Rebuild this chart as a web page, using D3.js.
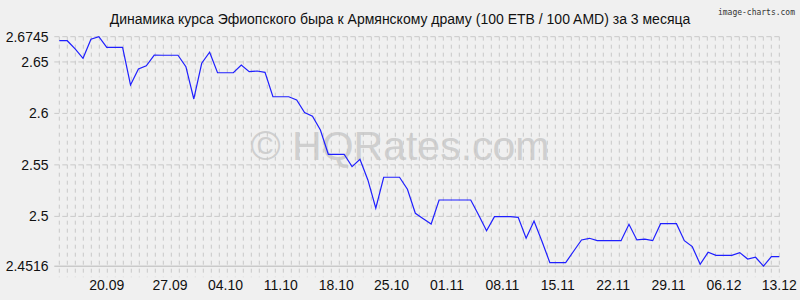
<!DOCTYPE html>
<html>
<head>
<meta charset="utf-8">
<script src="https://d3js.org/d3.v7.min.js"></script>
<style>
body { margin: 0; background: #f0f0f0; }
svg { display: block; }
</style>
</head>
<body>
<div id="chart"></div>
<script>

// ETB/AMD rate, daily values 13.09 - 13.12
var rates = [
    2.6706, 2.6706, 2.6626, 2.6535, 2.6720, 2.6745, 2.6642, 2.6642, 2.6642, 2.6276,
    2.6431, 2.6463, 2.6567, 2.6565, 2.6565, 2.6565, 2.6454, 2.6140, 2.6487, 2.6594,
    2.6395, 2.6395, 2.6395, 2.6470, 2.6405, 2.6412, 2.6399, 2.6162, 2.6162, 2.6162,
    2.6130, 2.6009, 2.5972, 2.5839, 2.5603, 2.5603, 2.5603, 2.5483, 2.5555, 2.5354,
    2.5079, 2.5380, 2.5380, 2.5380, 2.5263, 2.5030, 2.4978, 2.4926, 2.5159, 2.5159,
    2.5159, 2.5159, 2.5159, 2.5014, 2.4861, 2.4997, 2.4997, 2.4997, 2.4991, 2.4787,
    2.4955, 2.4758, 2.4551, 2.4551, 2.4551, 2.4661, 2.4771, 2.4787, 2.4764, 2.4764,
    2.4764, 2.4764, 2.4923, 2.4771, 2.4778, 2.4764, 2.4929, 2.4929, 2.4929, 2.4764,
    2.4706, 2.4535, 2.4651, 2.4622, 2.4622, 2.4622, 2.4648, 2.4586, 2.4603, 2.4516,
    2.4609, 2.4609
];

var xTickLabels = ["20.09", "27.09", "04.10", "11.10", "18.10", "25.10", "01.11",
                   "08.11", "15.11", "22.11", "29.11", "06.12", "13.12"];
var xTickIdx = [6, 14, 21, 28, 35, 42, 49, 56, 63, 70, 77, 84, 91];

var yTicks = [2.4516, 2.5, 2.55, 2.6, 2.65, 2.6745];

var title = "Динамика курса Эфиопского быра к Армянскому драму (100 ETB / 100 AMD) за 3 месяца";

var width = 800, height = 300;
var plot = {left: 59.3, right: 779.3, top: 36.7, bottom: 266.2};

var svg = d3.select("#chart").append("svg")
    .attr("width", width)
    .attr("height", height)
    .style("font-family", "'Liberation Sans', Arial, sans-serif");

svg.append("rect")
    .attr("width", width)
    .attr("height", height)
    .attr("fill", "#f0f0f0");

var x = d3.scaleLinear()
    .domain([0, rates.length - 1])
    .range([plot.left, plot.right]);

var y = d3.scaleLinear()
    .domain([d3.min(yTicks), d3.max(yTicks)])
    .range([plot.bottom, plot.top]);

// vertical grid, one line every 8px
var gx = d3.scaleLinear().domain([0, 90]).range([plot.left, plot.right]);

svg.append("g")
    .selectAll("line")
    .data(d3.range(0, 91))
    .enter()
    .append("line")
    .attr("x1", function(d) { return gx(d); })
    .attr("x2", function(d) { return gx(d); })
    .attr("y1", plot.top)
    .attr("y2", plot.bottom + 11)
    .attr("stroke", "#c9c9c9")
    .attr("stroke-width", 1)
    .attr("stroke-dasharray", "4,4");

// horizontal grid at tick values
svg.append("g")
    .selectAll("line")
    .data(yTicks)
    .enter()
    .append("line")
    .attr("x1", plot.left - 5)
    .attr("x2", plot.right)
    .attr("y1", function(d) { return y(d); })
    .attr("y2", function(d) { return y(d); })
    .attr("stroke", function(d, i) { return i === 0 ? "#b8b8b8" : "#c9c9c9"; })
    .attr("stroke-width", 1)
    .attr("stroke-dasharray", function(d, i) { return i === 0 ? null : "5,3"; });

// tick labels
svg.append("g")
    .selectAll("text")
    .data(yTicks)
    .enter()
    .append("text")
    .attr("x", 48.5)
    .attr("y", function(d) { return y(d); })
    .attr("dy", "0.36em")
    .attr("text-anchor", "end")
    .attr("font-size", 14)
    .attr("fill", "#111")
    .text(function(d) { return d; });

svg.append("g")
    .selectAll("text")
    .data(xTickLabels)
    .enter()
    .append("text")
    .attr("x", function(d, i) { return x(xTickIdx[i]); })
    .attr("y", 290)
    .attr("text-anchor", "middle")
    .attr("font-size", 14)
    .attr("fill", "#111")
    .text(function(d) { return d; });

// watermark
svg.append("text")
    .attr("x", 400)
    .attr("y", 160)
    .attr("text-anchor", "middle")
    .attr("font-size", 41)
    .attr("fill", "#c6c6c6")
    .attr("fill-opacity", 0.8)
    .text("© HQRates.com");

// rate line
var line = d3.line()
    .x(function(d, i) { return x(i); })
    .y(function(d) { return y(d); });

svg.append("path")
    .datum(rates)
    .attr("fill", "none")
    .attr("stroke", "#1f1fff")
    .attr("stroke-width", 1.2)
    .attr("d", line);

svg.append("text")
    .attr("x", 400)
    .attr("y", 24)
    .attr("text-anchor", "middle")
    .attr("font-size", 14)
    .attr("fill", "#111")
    .text(title);

svg.append("text")
    .attr("x", 795)
    .attr("y", 15)
    .attr("text-anchor", "end")
    .attr("font-size", 8)
    .attr("font-family", "'DejaVu Sans Mono', monospace")
    .attr("fill", "#333")
    .text("image-charts.com");

</script>
</body>
</html>
